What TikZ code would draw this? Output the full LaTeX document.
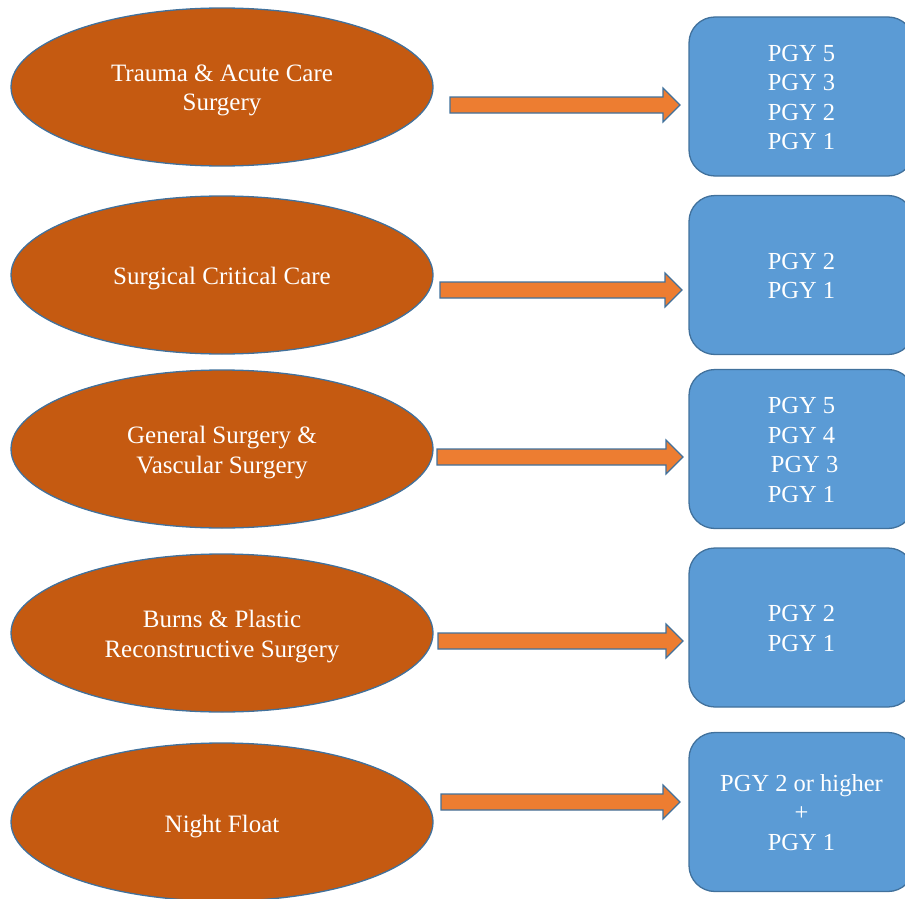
\documentclass[tikz,border=0pt]{standalone}
\usepackage{fontspec}
\setmainfont{Liberation Serif}
\usetikzlibrary{shapes.geometric}
\definecolor{ellfill}{HTML}{C55A11}
\definecolor{boxfill}{HTML}{5B9BD5}
\definecolor{edgeblue}{HTML}{41719C}
\definecolor{arrfill}{HTML}{ED7D31}
\newcommand{\lowertext}[2]{\raisebox{-#1}[\height][\depth]{\begin{tabular}{@{}c@{}}#2\end{tabular}}}
\tikzset{
  area/.style={ellipse, draw=edgeblue, fill=ellfill, line width=1.3pt,
    minimum width=422pt, minimum height=158pt, inner sep=0pt,
    text=white, font=\fontsize{25}{30}\selectfont},
  pgybox/.style={rectangle, rounded corners=26pt, draw=edgeblue, fill=boxfill, line width=1.3pt,
    minimum width=225pt, minimum height=159pt, inner sep=0pt,
    text=white, font=\fontsize{24.5}{29.5}\selectfont}, 
  blockarrow/.style={draw=edgeblue, fill=arrfill, line width=1.1pt, line join=miter}
}
\begin{document}
\begin{tikzpicture}[x=1pt,y=-1pt]
\useasboundingbox (0,0) rectangle (905,899);
\node[area] (e1) at (222,87) {\lowertext{3pt}{Trauma \& Acute Care\\Surgery}};
\node[area] (e2) at (222,275) {\lowertext{3pt}{Surgical Critical Care}};
\node[area] (e3) at (222,449) {\lowertext{3pt}{General Surgery \&\\Vascular Surgery}};
\node[area] (e4) at (222,633) {\lowertext{3pt}{Burns \& Plastic\\Reconstructive Surgery}};
\node[area] (e5) at (222,822) {\lowertext{4pt}{Night Float}};

\node[pgybox] (b1) at (801.5,96.5) {\lowertext{3pt}{PGY 5\\PGY 3\\PGY 2\\PGY 1}};
\node[pgybox] (b2) at (801.5,275) {\lowertext{3pt}{PGY 2\\PGY 1}};
\node[pgybox] (b3) at (801.5,449) {\lowertext{3pt}{PGY 5\\PGY 4\\~PGY 3\\PGY 1}};
\node[pgybox] (b4) at (801.5,627.5) {\lowertext{3pt}{PGY 2\\PGY 1}};
\node[pgybox] (b5) at (801.5,812) {\lowertext{3pt}{PGY 2 or higher\\+\\PGY 1}};

% block arrows: start x, head start x, tip x, center y
\foreach \xa/\xh/\xt/\yc in {450/663/680/105, 440/665/682/290, 437/666/683/457, 438/666/683/641, 441/663/680/802}{
  \draw[blockarrow] (\xa,\yc-8) -- (\xh,\yc-8) -- (\xh,\yc-17) -- (\xt,\yc) -- (\xh,\yc+17) -- (\xh,\yc+8) -- (\xa,\yc+8) -- cycle;
}
\end{tikzpicture}
\end{document}
